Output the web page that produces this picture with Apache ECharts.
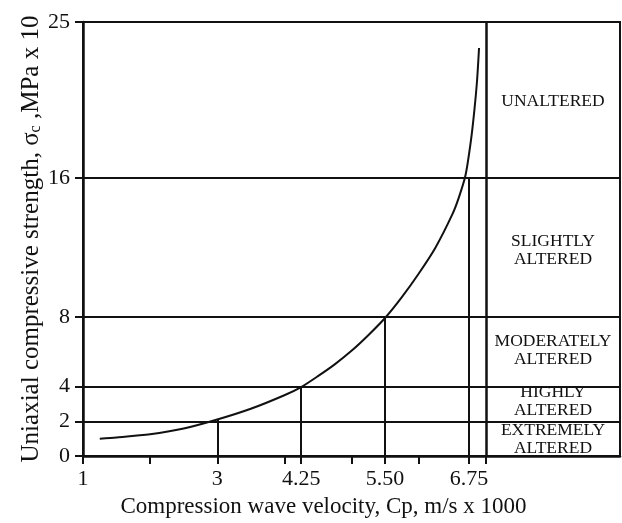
<!DOCTYPE html>
<html>
<head>
<meta charset="utf-8">
<script src="https://cdn.jsdelivr.net/npm/echarts@6/dist/echarts.min.js"></script>
<style>
  html, body { margin: 0; padding: 0; background: #fff; }
  #chart { width: 622px; height: 523px; }
</style>
</head>
<body>
<div id="chart"></div>
<script>
// ---- data ----
const velocity = [1.25, 1.5, 2.0, 2.5, 3.0, 3.5, 4.0, 4.25, 4.5, 4.75, 5.0, 5.25, 5.5, 5.75, 6.0, 6.25, 6.5, 6.6, 6.7, 6.78, 6.83, 6.87, 6.9];
const strength = [1.0, 1.07, 1.25, 1.58, 2.1, 2.72, 3.5, 3.97, 4.6, 5.28, 6.06, 6.96, 7.95, 9.15, 10.5, 12.0, 13.9, 14.9, 16.2, 18.2, 19.9, 21.6, 23.5];
const dropX = [3, 4.25, 5.5, 6.75];
const dropTop = [2.1, 4.0, 8.0, 16.0];
const levelLines = [2, 4, 8, 16];
const zoneBoundaryX = [7];
const xTickValues = [1, 3, 4.25, 5.5, 6.75];
const xTickLabels = ['1', '3', '4.25', '5.50', '6.75'];
const xTickMarks = [1, 2, 3, 4, 4.25, 5, 5.5, 6, 6.75, 7];
const yTickValues = [0, 2, 4, 8, 16, 25];
const zoneNames = ['UNALTERED', 'SLIGHTLY\nALTERED', 'MODERATELY\nALTERED', 'HIGHLY\nALTERED', 'EXTREMELY\nALTERED'];

const INK = '#111';
const SERIF = '"Liberation Serif", "DejaVu Serif", serif';

const chart = echarts.init(document.getElementById('chart'), null, { renderer: 'canvas' });

const zonePixelY = [101.7, 250, 350, 401.6, 439];

const option = {
  backgroundColor: '#fff',
  animation: false,
  grid: {
    left: 83, right: 2, top: 22, bottom: 64,
    show: true, borderColor: INK, borderWidth: 2, backgroundColor: 'transparent'
  },
  xAxis: {
    type: 'value', min: 1, max: 9,
    axisLine: { onZero: false, lineStyle: { color: INK, width: 2.5 } },
    axisTick: { show: true, customValues: xTickMarks, length: 8, inside: false, lineStyle: { color: INK, width: 2 } },
    axisLabel: {
      customValues: xTickValues,
      formatter: v => { const i = xTickValues.findIndex(t => Math.abs(t - v) < 1e-6); return i >= 0 ? xTickLabels[i] : ''; },
      color: INK, fontFamily: SERIF, fontSize: 22, margin: 12
    },
    splitLine: { show: false },
    name: 'Compression wave velocity, Cp, m/s x 1000',
    nameLocation: 'middle', nameGap: 39, nameMoveOverlap: false,
    nameTextStyle: { color: INK, fontFamily: SERIF, fontSize: 23, padding: [0, 56, 0, 0] }
  },
  yAxis: {
    type: 'value', min: 0, max: 25,
    axisLine: { onZero: false, lineStyle: { color: INK, width: 2.5 } },
    axisTick: { show: true, customValues: yTickValues, length: 8, inside: false, lineStyle: { color: INK, width: 2 } },
    axisLabel: { customValues: yTickValues, color: INK, fontFamily: SERIF, fontSize: 22, margin: 13 },
    splitLine: { show: false },
    name: 'Uniaxial compressive strength, σ{s|c} ,MPa x 10',
    nameLocation: 'middle', nameGap: 39, nameMoveOverlap: false,
    nameTextStyle: {
      color: INK, fontFamily: SERIF, fontSize: 25,
      rich: { s: { color: INK, fontFamily: SERIF, fontSize: 16, verticalAlign: 'bottom', padding: [8, 0, 0, 0] } }
    }
  },
  series: [
    {
      type: 'line',
      data: velocity.map((v, i) => [v, strength[i]]),
      smooth: 0.25,
      showSymbol: false, symbol: 'none',
      lineStyle: { color: INK, width: 2 },
      markLine: {
        silent: true, symbol: 'none', label: { show: false },
        lineStyle: { color: INK, width: 2, type: 'solid' },
        data: [
          ...levelLines.map(v => ({ yAxis: v })),
          ...zoneBoundaryX.map(v => ({ xAxis: v, lineStyle: { color: INK, width: 2.5, type: 'solid' } })),
          ...dropX.map((x, i) => [{ coord: [x, 0] }, { coord: [x, dropTop[i]] }])
        ]
      }
    }
  ],
  graphic: zoneNames.map((t, i) => ({
    type: 'text', x: 553, y: zonePixelY[i], silent: true,
    style: {
      text: t, fill: INK, font: '17.5px ' + SERIF, lineHeight: 18,
      align: 'center', verticalAlign: 'middle'
    }
  }))
};

chart.setOption(option);
</script>
</body>
</html>
